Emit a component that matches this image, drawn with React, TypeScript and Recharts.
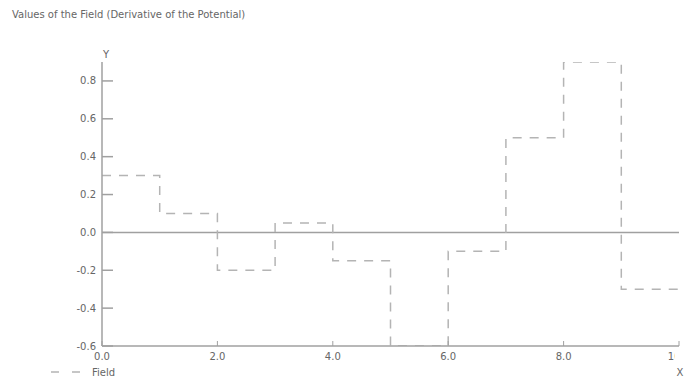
import { Legend, Line, LineChart, ReferenceLine, XAxis, YAxis } from "recharts";

// step positions and field value on each interval (last point closes the final step)
const stepX = [0, 1, 2, 3, 4, 5, 6, 7, 8, 9, 10];
const fieldValues = [0.3, 0.1, -0.2, 0.05, -0.15, -0.6, -0.1, 0.5, 0.9, -0.3, -0.3];

const xTicks = [0, 2, 4, 6, 8, 10];
const yTicks = [-0.6, -0.4, -0.2, 0, 0.2, 0.4, 0.6, 0.8];

const TITLE = "Values of the Field (Derivative of the Potential)";
const SERIES_NAME = "Field";

const FONT = "'DejaVu Sans', sans-serif";
const TEXT = "#666";
const AXIS = "#a0a0a0";
const LINE = "#b4b4b4";

const rows = stepX.map((x, i) => ({ x, field: fieldValues[i] }));

function YTick(props: any) {
  const { x, y, payload } = props;
  return (
    <g>
      <line x1={x} x2={x + 11} y1={y} y2={y} stroke={AXIS} strokeWidth={1.5} />
      <text x={x - 6} y={y} dy="0.35em" textAnchor="end" fontSize={10} fontFamily={FONT} fill={TEXT}>
        {Number(payload.value).toFixed(1)}
      </text>
    </g>
  );
}

function XTick(props: any) {
  const { x, y, payload, index } = props;
  const clipId = `xtick-clip-${index}`;
  return (
    <g>
      <defs>
        <clipPath id={clipId}>
          <rect x={0} y={y} width={675} height={30} />
        </clipPath>
      </defs>
      <line x1={x} x2={x} y1={y} y2={y - 5} stroke={AXIS} strokeWidth={1} />
      <text
        x={x}
        y={y + 10}
        dy="0.35em"
        textAnchor="middle"
        fontSize={10}
        fontFamily={FONT}
        fill={TEXT}
        clipPath={`url(#${clipId})`}
      >
        {Number(payload.value).toFixed(1)}
      </text>
    </g>
  );
}

function renderLegend(props: any) {
  const entry = props.payload?.[0];
  return (
    <svg width={130} height={20}>
      <line x1={51} x2={80} y1={10} y2={10} stroke={LINE} strokeWidth={1.5} strokeDasharray="8 13" />
      <text x={92} y={10} dy="0.35em" fontSize={10} fontFamily={FONT} fill={TEXT}>
        {entry?.value ?? SERIES_NAME}
      </text>
    </svg>
  );
}

export default function App() {
  return (
    <div style={{ position: "absolute", left: 0, top: 0, width: 685, height: 378, background: "#fff" }}>
      <div
        style={{
          position: "absolute",
          left: 12,
          top: 9,
          fontSize: 10,
          lineHeight: "12px",
          fontFamily: FONT,
          color: TEXT,
          whiteSpace: "nowrap",
        }}
      >
        {TITLE}
      </div>
      <LineChart width={685} height={378} data={rows} margin={{ top: 62, right: 6, bottom: 2, left: 0 }}>
        <XAxis
          dataKey="x"
          type="number"
          height={30}
          domain={[0, 10]}
          ticks={xTicks}
          interval={0}
          tickSize={0}
          tickMargin={0}
          tick={<XTick />}
          stroke={AXIS}
          strokeWidth={1.5}
          label={{
            content: (p: any) => {
              const vb = p.viewBox;
              return (
                <text x={vb.x + vb.width + 1} y={vb.y + 26} dy="0.35em" textAnchor="middle" fontSize={10} fontFamily={FONT} fill={TEXT}>
                  X
                </text>
              );
            },
          }}
        />
        <YAxis
          type="number"
          width={102}
          domain={[-0.6, 0.9]}
          ticks={yTicks}
          interval={0}
          tickSize={0}
          tickMargin={0}
          tick={<YTick />}
          stroke={AXIS}
          strokeWidth={1.5}
          allowDataOverflow
          label={{
            content: (p: any) => {
              const vb = p.viewBox;
              return (
                <text x={vb.x + vb.width + 4} y={vb.y - 8} dy="0.35em" textAnchor="middle" fontSize={10} fontFamily={FONT} fill={TEXT}>
                  Y
                </text>
              );
            },
          }}
        />
        <ReferenceLine y={0} stroke={AXIS} strokeWidth={1.5} />
        <Line
          dataKey="field"
          name={SERIES_NAME}
          type="stepAfter"
          stroke={LINE}
          strokeWidth={1.5}
          strokeDasharray="9 8"
          dot={false}
          activeDot={false}
          isAnimationActive={false}
        />
        <Legend
          layout="horizontal"
          verticalAlign="middle"
          align="center"
          content={renderLegend}
          wrapperStyle={{ left: 0, top: 362, width: 130, height: 20 }}
        />
      </LineChart>
    </div>
  );
}
